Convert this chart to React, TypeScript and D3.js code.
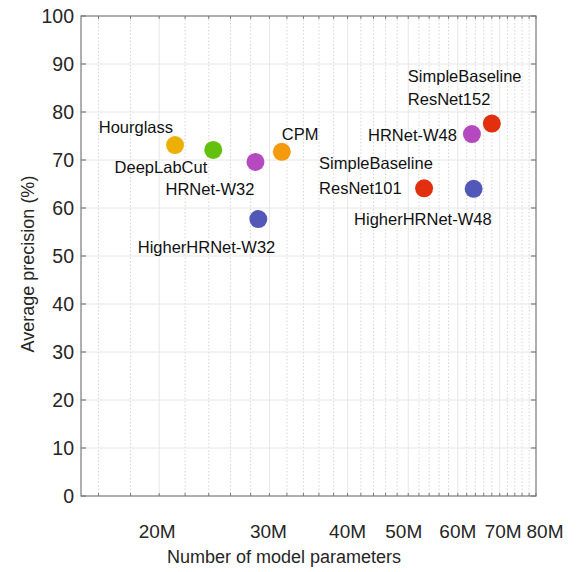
import * as d3 from 'd3'

// model names, parameter counts (millions) and AP
const models = [
  'Hourglass',
  'DeepLabCut',
  'HRNet-W32',
  'CPM',
  'HigherHRNet-W32',
  'SimpleBaseline ResNet152',
  'HRNet-W48',
  'SimpleBaseline ResNet101',
  'HigherHRNet-W48',
]
const params = [21.2, 24.4, 28.5, 31.4, 28.8, 68.0, 63.2, 53.0, 63.6]
const precision = [73.1, 72.1, 69.6, 71.7, 57.7, 77.6, 75.4, 64.1, 64.0]

const xTickValues = [20, 30, 40, 50, 60, 70, 80]
const xMinorValues = d3.range(16, 81, 2)
const yTickValues = [0, 10, 20, 30, 40, 50, 60, 70, 80, 90, 100]

// styling for each point (colour + label placement), kept apart from the data
const colors = ['#EDB000', '#63C00C', '#B54AC0', '#F59A0C', '#5258B8', '#E2300F', '#B54AC0', '#E2300F', '#5258B8']
const labelLayout = [
  { anchor: 'end', dx: -2, dy: [-12] },
  { anchor: 'end', dx: -6, dy: [23] },
  { anchor: 'end', dx: -1, dy: [33] },
  { anchor: 'start', dx: 0, dy: [-12] },
  { anchor: 'end', dx: 17, dy: [34] },
  { anchor: 'start', dx: -84, dy: [-41.6, -18.3] },
  { anchor: 'end', dx: -15, dy: [6.7] },
  { anchor: 'start', dx: -105, dy: [-19, 5.7] },
  { anchor: 'end', dx: 18, dy: [36] },
]
// the exported figure nudges crowded x tick labels apart
const xLabelNudge = [-2, -1, 0, -4.5, 0, 3.5, 9]

const width = 577
const height = 572
const left = 81
const right = 536
const top = 16
const bottom = 496

const font = '"Liberation Sans", Arial, sans-serif'
const axisColor = '#7a7a7a'
const textColor = '#262626'

export default function App() {
  const x = d3.scaleLog().domain([15, 80]).range([left, right])
  const y = d3.scaleLinear().domain([0, 100]).range([bottom, top])

  return (
    <svg
      width={width}
      height={height}
      style={{ position: 'absolute', left: 0, top: 0, background: '#fff' }}
      fontFamily={font}
    >
      <rect x={0} y={0} width={width} height={height} fill="#fff" />

      {/* grid */}
      <g>
        {xMinorValues
          .filter((v) => !xTickValues.includes(v))
          .map((v) => (
            <line
              key={'mx' + v}
              x1={x(v)}
              x2={x(v)}
              y1={top}
              y2={bottom}
              stroke="#d6d6d6"
              strokeWidth={1}
              strokeDasharray="1.5,2"
            />
          ))}
        {xTickValues.slice(0, -1).map((v) => (
          <line key={'gx' + v} x1={x(v)} x2={x(v)} y1={top} y2={bottom} stroke="#e6e6e6" strokeWidth={1} />
        ))}
        {yTickValues.slice(1, -1).map((v) => (
          <line key={'gy' + v} x1={left} x2={right} y1={y(v)} y2={y(v)} stroke="#e6e6e6" strokeWidth={1} />
        ))}
      </g>

      {/* box and ticks */}
      <g stroke={axisColor} strokeWidth={1.2}>
        <rect x={left} y={top} width={right - left} height={bottom - top} fill="none" />
        {yTickValues.map((v) => (
          <g key={'ty' + v}>
            <line x1={left} x2={left + 5} y1={y(v)} y2={y(v)} />
            <line x1={right} x2={right - 5} y1={y(v)} y2={y(v)} />
          </g>
        ))}
        {xMinorValues.map((v) => (
          <g key={'tx' + v}>
            <line x1={x(v)} x2={x(v)} y1={bottom} y2={bottom - 3} strokeWidth={1} />
            <line x1={x(v)} x2={x(v)} y1={top} y2={top + 3} strokeWidth={1} />
          </g>
        ))}
      </g>

      {/* tick labels */}
      <g fill={textColor} fontSize={19.5}>
        {yTickValues.map((v) => (
          <text key={'ly' + v} x={left - 7} y={y(v)} dy="0.36em" textAnchor="end">
            {v}
          </text>
        ))}
      </g>
      <g fill={textColor} fontSize={19}>
        {xTickValues.map((v, i) => (
          <text key={'lx' + v} x={x(v) + xLabelNudge[i]} y={538} textAnchor="middle">
            {v}M
          </text>
        ))}
      </g>

      {/* axis titles */}
      <text x={284} y={563} textAnchor="middle" fontSize={18} fill={textColor}>
        Number of model parameters
      </text>
      <text
        transform={`translate(34,${(top + bottom) / 2 + 8}) rotate(-90)`}
        textAnchor="middle"
        fontSize={18}
        fill={textColor}
      >
        Average precision (%)
      </text>

      {/* points */}
      <g>
        {models.map((m, i) => (
          <circle key={'p' + m} cx={x(params[i])} cy={y(precision[i])} r={9} fill={colors[i]} />
        ))}
      </g>

      {/* labels */}
      <g fontSize={16.5} fill="#111">
        {models.map((m, i) => {
          const lay = labelLayout[i]
          const lines = lay.dy.length > 1 ? m.split(' ') : [m]
          return lines.map((t, j) => (
            <text
              key={'t' + m + j}
              x={x(params[i]) + lay.dx}
              y={y(precision[i]) + lay.dy[j]}
              textAnchor={lay.anchor}
            >
              {t}
            </text>
          ))
        })}
      </g>
    </svg>
  )
}
